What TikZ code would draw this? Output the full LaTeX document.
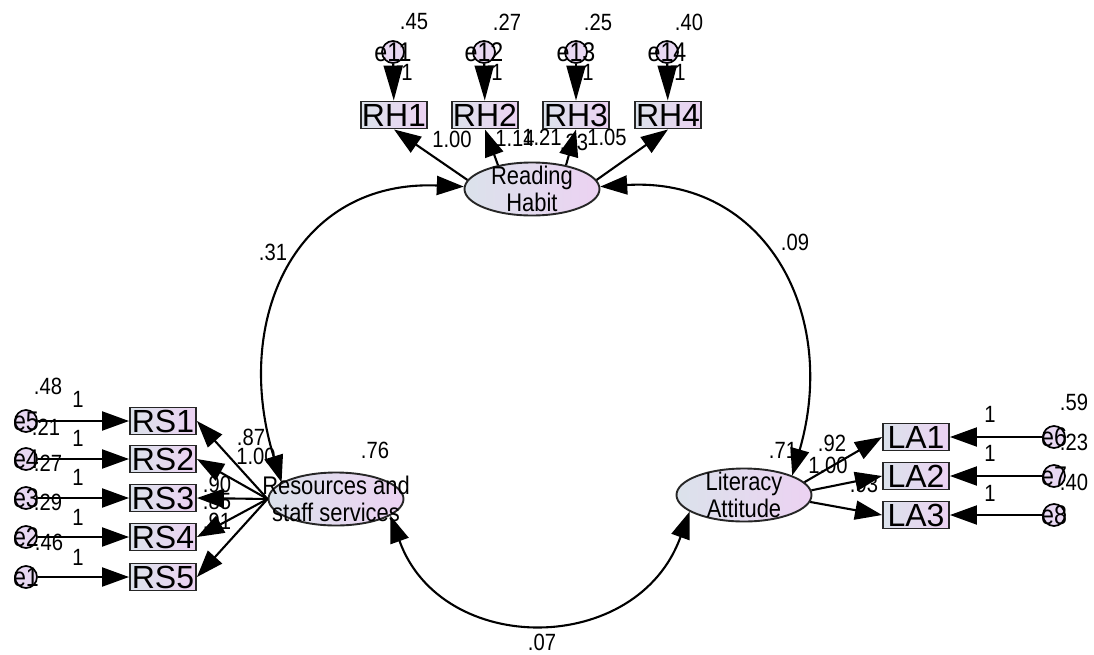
\documentclass[tikz,border=0pt]{standalone}
\usepackage{fontspec}
\setmainfont{Liberation Sans}
\newfontfamily\cond[FakeStretch=0.86]{Liberation Sans}
\usetikzlibrary{arrows.meta,shapes.geometric}
\definecolor{boxL}{RGB}{219,226,235}
\definecolor{boxR}{RGB}{236,210,242}
\definecolor{circF}{RGB}{232,216,242}
\begin{document}
\begin{tikzpicture}[x=1pt,y=-1pt,
  obs/.style={draw=black!85, line width=1.9pt, left color=boxL, right color=boxR, minimum width=66pt, minimum height=27pt, inner sep=0pt, font=\fontsize{32}{32}\selectfont},
  lat/.style={ellipse, draw=black!85, line width=1.9pt, left color=boxL, right color=boxR, minimum width=135pt, minimum height=53pt, inner sep=0pt},
  err/.style={circle, draw=black, line width=1.7pt, fill=circF, minimum size=22pt, inner sep=0pt, font=\cond\fontsize{27}{27}\selectfont},
  num/.style={font=\cond\fontsize{23.5}{23.5}\selectfont, inner sep=0pt},
  ltxt/.style={font=\cond\fontsize{25.5}{27.5}\selectfont, align=center, inner sep=0pt},
  arr/.style={line width=2.1pt, -{Triangle[length=27pt,width=19pt]}},
  arrtop/.style={line width=2.1pt, -{Triangle[length=35pt,width=19pt]}},
  cov/.style={line width=2.1pt, {Triangle[length=27pt,width=19pt]}-{Triangle[length=27pt,width=19pt]}},
]
\useasboundingbox (0,0) rectangle (1094,654);
% ---------- numeric labels (drawn first, under connectors)
\node[num] (v11) at (414,22) {.45};
\node[num] (v12) at (507,22) {.27};
\node[num] (v13) at (598,22) {.25};
\node[num] (v14) at (689,22) {.40};
\node[num] (f11) at (407,72) {1};
\node[num] (f12) at (497,72) {1};
\node[num] (f13) at (588,72) {1};
\node[num] (f14) at (680,72) {1};
\node[num] (l1) at (452,139) {1.00};
\node[num] (l2) at (515,138) {1.14};
\node[num] (l3) at (542,137) {1.21};
\node[num] (l4) at (574,142) {.33};
\node[num] (l5) at (607,137) {1.05};
\node[num] (v5) at (48,386) {.48};
\node[num] (v4) at (46,427) {.21};
\node[num] (v3) at (48,463) {.27};
\node[num] (v2) at (48,502) {.29};
\node[num] (v1) at (49,542) {.46};
\node[num] (f5) at (78,399) {1};
\node[num] (f4) at (78,438) {1};
\node[num] (f3) at (78,477) {1};
\node[num] (f2) at (78,517) {1};
\node[num] (f1) at (78,557) {1};
\node[num] (m1) at (251,437) {.87};
\node[num] (m2) at (256,456) {1.00};
\node[num] (m3) at (217,484) {.90};
\node[num] (m4) at (217,501) {.85};
\node[num] (m5) at (217,521) {.91};
\node[num] (vRS) at (375,450) {.76};
\node[num] (v6) at (1074,402) {.59};
\node[num] (v7) at (1074,442) {.23};
\node[num] (v8) at (1074,482) {.40};
\node[num] (f6) at (990,414) {1};
\node[num] (f7) at (990,453) {1};
\node[num] (f8) at (990,493) {1};
\node[num] (n1) at (832,443) {.92};
\node[num] (n2) at (828,465) {1.00};
\node[num] (n3) at (864,484) {.93};
\node[num] (vLA) at (783,450) {.71};
\node[num] (c1) at (273,252) {.31};
\node[num] (c2) at (795,242) {.09};
\node[num] (c3) at (542,642) {.07};
% ---------- top group
\node[obs] (RH1) at (394,115) {RH1};
\node[obs] (RH2) at (485,115) {RH2};
\node[obs] (RH3) at (576,115) {RH3};
\node[obs] (RH4) at (668,115) {RH4};
\node[err] (e11) at (393,52) {\makebox[0pt]{e11}};
\node[err] (e12) at (484,52) {\makebox[0pt]{e12}};
\node[err] (e13) at (576,52) {\makebox[0pt]{e13}};
\node[err] (e14) at (667,52) {\makebox[0pt]{e14}};
\node[lat] (RH) at (532,189) {};
\node[ltxt] (RHt) at (532,189) {Reading\\Habit};
% ---------- left group
\node[obs] (RS1) at (163,421) {RS1};
\node[obs] (RS2) at (163,459) {RS2};
\node[obs] (RS3) at (163,498) {RS3};
\node[obs] (RS4) at (163,537) {RS4};
\node[obs] (RS5) at (163,577) {RS5};
\node[err] (e5) at (26,421) {\makebox[0pt]{e5}};
\node[err] (e4) at (26,459) {\makebox[0pt]{e4}};
\node[err] (e3) at (26,498) {\makebox[0pt]{e3}};
\node[err] (e2) at (26,537) {\makebox[0pt]{e2}};
\node[err] (e1) at (26,577) {\makebox[0pt]{e1}};
\node[lat] (RS) at (336,499) {};
\node[ltxt] (RSt) at (336,499) {Resources and\\staff services};
% ---------- right group
\node[obs] (LA1) at (916,437) {LA1};
\node[obs] (LA2) at (916,476) {LA2};
\node[obs] (LA3) at (916,515) {LA3};
\node[err] (e6) at (1054,437) {\makebox[0pt]{e6}};
\node[err] (e7) at (1054,476) {\makebox[0pt]{e7}};
\node[err] (e8) at (1054,515) {\makebox[0pt]{e8}};
\node[lat] (LA) at (744,495) {};
\node[ltxt] (LAt) at (744,495) {Literacy\\Attitude};
% ---------- connectors
\draw[arrtop] (e11) -- (RH1);
\draw[arrtop] (e12) -- (RH2);
\draw[arrtop] (e13) -- (RH3);
\draw[arrtop] (e14) -- (RH4);
\draw[arr] (RH.172) -- (RH1.south);
\draw[arr] (RH.145) -- (RH2.south);
\draw[arr] (RH.35) -- (RH3.south);
\draw[arr] (RH.8) -- (RH4.south);
\draw[arr] (e5) -- (RS1);
\draw[arr] (e4) -- (RS2);
\draw[arr] (e3) -- (RS3);
\draw[arr] (e2) -- (RS4);
\draw[arr] (e1) -- (RS5);
\draw[arr] (RS.west) -- (RS1.east);
\draw[arr] (RS.west) -- (RS2.east);
\draw[arr] (RS.west) -- (RS3.east);
\draw[arr] (RS.west) -- (RS4.east);
\draw[arr] (RS.west) -- (RS5.east);
\draw[arr] (e6) -- (LA1);
\draw[arr] (e7) -- (LA2);
\draw[arr] (e8) -- (LA3);
\draw[arr] (LA.12) -- (LA1.west);
\draw[arr] (LA.4) -- (LA2.west);
\draw[arr] (LA.-6) -- (LA3.west);
\draw[cov] (RH.178) .. controls +(-168,-7) and +(-50,-163) .. (RS.163);
\draw[cov] (RH.2) .. controls +(165,-10) and +(47,-162) .. (LA.22);
\draw[cov] (RS.-17) .. controls +(51,142) and +(-52,145) .. (LA.197);
\end{tikzpicture}
\end{document}
